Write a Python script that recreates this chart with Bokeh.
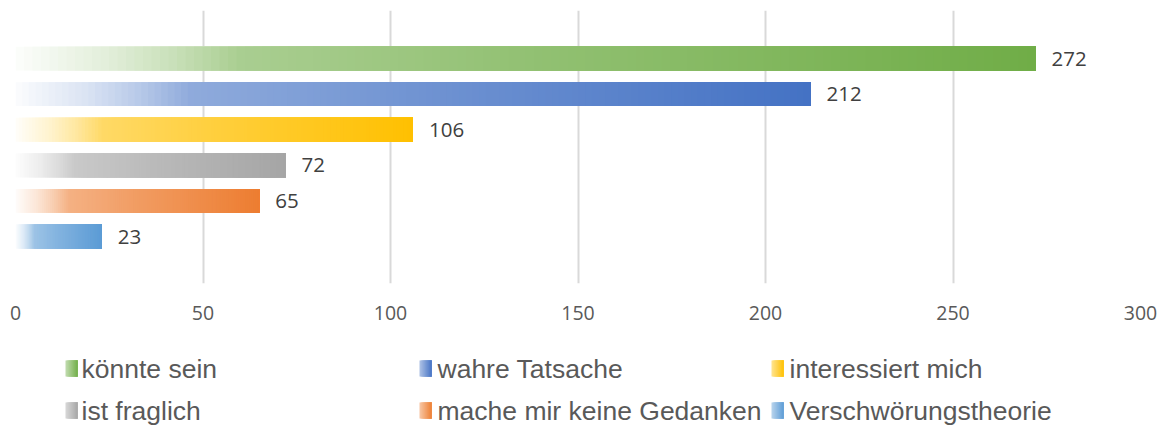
import numpy as np
from bokeh.plotting import figure
from bokeh.models import ColumnDataSource, Range1d, FixedTicker
from bokeh.layouts import column
from bokeh.core.properties import value
from bokeh.embed import file_html
from bokeh.resources import INLINE

# ---------------- data ----------------
categories = ["könnte sein", "wahre Tatsache", "interessiert mich",
              "ist fraglich", "mache mir keine Gedanken", "Verschwörungstheorie"]
counts = [272, 212, 106, 72, 65, 23]
colors = ["#70AD47", "#4472C4", "#FFC000", "#A5A5A5", "#ED7D31", "#5B9BD5"]
x_ticks = [0, 50, 100, 150, 200, 250, 300]

# gradient ramp (position along bar -> opacity of the colour over white)
ramp_t = [0.0, 0.09, 0.155, 0.22, 0.5, 0.75, 1.0]
ramp_a = [0.02, 0.2, 0.38, 0.6, 0.76, 0.88, 1.0]


def hex2rgb(h):
    h = h.lstrip("#")
    return tuple(int(h[i:i + 2], 16) for i in (0, 2, 4))


def blend(rgb, a):
    return "#%02x%02x%02x" % tuple(int(round(255 + (c - 255) * a)) for c in rgb)


N = 120
edges = np.linspace(0, 1, N + 1)
mids = (edges[:-1] + edges[1:]) / 2
alphas = np.interp(mids, ramp_t, ramp_a)

# each slice runs from its own start to the bar's end; later slices overlay
# earlier ones, giving a seamless gradient
ys, lefts, rights, fills = [], [], [], []
for i, (v, c) in enumerate(zip(counts, colors)):
    rgb = hex2rgb(c)
    for k in range(N):
        ys.append(i)
        lefts.append(v * edges[k])
        rights.append(v)
        fills.append(blend(rgb, alphas[k]))

bars = ColumnDataSource(dict(y=ys, left=lefts, right=rights, fill=fills))

# ---------------- main chart ----------------
p = figure(width=1157, height=328,
           x_range=Range1d(0, 300), y_range=Range1d(6.32, -1.35),
           output_backend="svg", toolbar_location=None,
           min_border_left=15, min_border_right=17, min_border_top=10,
           min_border_bottom=45, y_axis_location=None)
p.outline_line_color = None
p.background_fill_color = "white"

p.hbar(y="y", left="left", right="right", height=0.67, source=bars,
       fill_color="fill", line_color=None)

labels = ColumnDataSource(dict(x=counts, y=list(range(len(counts))),
                               t=[str(v) for v in counts]))
p.text(x="x", y="y", text="t", source=labels, x_offset=16,
       text_baseline="middle", text_align="left",
       text_font=value("Open Sans"), text_font_size="20.5px", text_color="#404040")

p.xaxis.ticker = FixedTicker(ticks=x_ticks)
p.xaxis.axis_line_color = None
p.xaxis.major_tick_line_color = None
p.xaxis.minor_tick_line_color = None
p.xaxis.major_label_text_font = "Open Sans"
p.xaxis.major_label_text_font_size = "19.5px"
p.xaxis.major_label_text_color = "#595959"
p.xaxis.major_label_standoff = 16

p.xgrid.ticker = FixedTicker(ticks=x_ticks)
p.xgrid.grid_line_color = "#d9d9d9"
p.xgrid.grid_line_width = 2
p.ygrid.visible = False

# ---------------- legend (separate panel) ----------------
# the column layout aligns this panel's frame with the chart's frame (15..1140),
# so the range is set to match and positions are in page pixels
lg = figure(width=1157, height=100, x_range=Range1d(15, 1140), y_range=Range1d(100, 0),
            output_backend="svg", toolbar_location=None, min_border=0,
            x_axis_location=None, y_axis_location=None)
lg.outline_line_color = None
lg.xgrid.visible = False
lg.ygrid.visible = False

col_marker_x = [65, 419, 771]
col_text_x = [81, 437, 789]
row_y = [40, 82]
mw, mh = 12, 16

M = 12
medges = np.linspace(0, 1, M + 1)
malpha = np.interp(medges[:-1], [0, 1], [0.45, 1.0])

ql, qr, qt, qb, qf = [], [], [], [], []
tx, ty, tt = [], [], []
for i, (name, c) in enumerate(zip(categories, colors)):
    r, cidx = divmod(i, 3)
    rgb = hex2rgb(c)
    x0 = col_marker_x[cidx]
    yc = row_y[r]
    for k in range(M):
        ql.append(x0 + mw * medges[k])
        qr.append(x0 + mw)
        qt.append(yc - mh / 2)
        qb.append(yc + mh / 2)
        qf.append(blend(rgb, malpha[k]))
    tx.append(col_text_x[cidx])
    ty.append(yc)
    tt.append(name)

lg.quad(left=ql, right=qr, top=qt, bottom=qb, fill_color=qf, line_color=None)
lg.text(x=tx, y=ty, text=tt, text_baseline="middle", text_align="left",
        text_font=value("Liberation Sans"), text_font_size="26.5px", text_color="#595959")

layout = column(p, lg, spacing=0)
open("out.html", "w").write(file_html(layout, INLINE))
